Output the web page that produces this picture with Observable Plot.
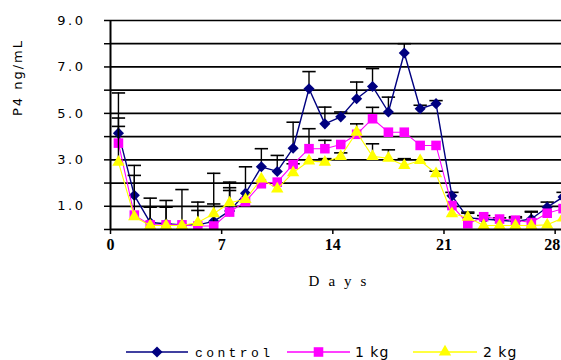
<!DOCTYPE html>
<html><head><meta charset="utf-8">
<script src="https://cdn.jsdelivr.net/npm/d3@7"></script>
<script src="https://cdn.jsdelivr.net/npm/@observablehq/plot@0.6"></script>
<style>
body{margin:0;background:#fff;}
#chart svg, #legend svg{display:block;}
#chart g[aria-label="y-axis tick label"] text{letter-spacing:2.5px;}
.ylab text{letter-spacing:2px;}
.xlab text{letter-spacing:9px;}
</style></head><body><div id="chart"></div><div id="legend"></div>
<script>
const days = [0.5,1.5,2.5,3.5,4.5,5.5,6.5,7.5,8.5,9.5,10.5,11.5,12.5,13.5,14.5,15.5,16.5,17.5,18.5,19.5,20.5,21.5,22.5,23.5,24.5,25.5,26.5,27.5,28.5];
const control = [4.15,1.47,0.3,0.25,0.2,0.2,0.35,0.8,1.56,2.7,2.5,3.5,6.06,4.55,4.85,5.63,6.16,5.06,7.6,5.2,5.42,1.45,0.5,0.45,0.4,0.35,0.45,0.96,1.4];
const kg1 = [3.72,0.62,0.2,0.2,0.2,0.15,0.15,0.75,1.2,1.97,2.04,2.8,3.48,3.48,3.66,4.1,4.77,4.19,4.19,3.62,3.62,1.03,0.25,0.55,0.45,0.4,0.3,0.7,0.9];
const kg2 = [2.9,0.55,0.17,0.17,0.17,0.3,0.68,1.15,1.3,2.18,1.75,2.45,2.95,2.9,3.15,4.19,3.15,3.07,2.76,2.97,2.4,0.68,0.53,0.17,0.17,0.17,0.17,0.2,0.5];
const controlErr = [5.88,2.76,1.35,1.25,1.72,1.18,2.42,2.04,2.7,3.48,3.19,4.62,6.8,5.27,5.06,6.35,6.93,5.7,8.0,5.35,5.55,1.6,0.75,0.6,0.5,0.55,0.75,1.18,1.6];
const kg1Err = [4.44,2.33,0.96,0.96,null,0.82,1.1,1.68,null,null,null,2.83,4.34,3.84,null,4.55,5.26,null,null,null,null,null,0.7,null,null,0.5,0.78,null,null];
const kg2Err = [4.8,null,null,null,null,null,null,1.8,null,null,null,null,null,3.05,3.3,null,3.69,3.43,3.05,null,2.51,null,null,null,null,null,null,null,null];
const seriesNames = ["control","1 kg","2 kg"];
const seriesColors = ["#000080","#ff00ff","#ffff00"];
const seriesSymbols = ["diamond2","square","triangle"];
const seriesRadius = [5,5.4,4.6];
const xTicks = [0,7,14,21,28];
const yTicks = [0,1,2,3,4,5,6,7,8,9];
const yTickLabels = {1:"1.0",3:"3.0",5:"5.0",7:"7.0",9:"9.0"};
const yLabel = "P4 ng/mL";
const xLabel = "Days";

const valueSets = [control, kg1, kg2];
const errSets = [controlErr, kg1Err, kg2Err];
const tables = seriesNames.map((s, k) => days.map((d, i) => ({day: d, series: s, value: valueSets[k][i], err: errSets[k][i]})));

const seriesMarks = tables.flatMap((rows, k) => {
  const errRows = rows.filter(r => r.err != null);
  return [
    Plot.ruleX(errRows, {x: "day", y1: "value", y2: "err", stroke: "#000", strokeWidth: 1.4, clip: true}),
    Plot.link(errRows, {x1: d => d.day - 0.42, x2: d => d.day + 0.42, y1: "err", y2: "err", stroke: "#000", strokeWidth: 1.6, clip: true}),
    Plot.line(rows, {x: "day", y: "value", stroke: seriesColors[k], strokeWidth: k === 0 ? 1.4 : 1.1, clip: true}),
    Plot.dot(rows, {x: "day", y: "value", symbol: () => seriesSymbols[k], fill: seriesColors[k], r: seriesRadius[k], stroke: "none", clip: true})
  ];
});

const chart = Plot.plot({
  width: 561,
  height: 320,
  marginLeft: 110,
  marginRight: 0,
  marginTop: 20,
  marginBottom: 91,
  style: {background: "#fff", color: "#000"},
  x: {domain: [0, 28.4]},
  y: {domain: [0, 9]},
  symbol: {type: "identity"},
  marks: [
    Plot.ruleY(yTicks.filter(t => t > 0), {stroke: "#000", strokeOpacity: 1, strokeWidth: 1.7}),
    Plot.axisY({ticks: yTicks, tickFormat: d => yTickLabels[d] || "", tickSize: 6, tickPadding: 19, fontSize: 13, fontFamily: "DejaVu Sans", stroke: "#000", strokeWidth: 1.5, label: null}),
    Plot.axisX({ticks: xTicks, tickFormat: d => String(d), tickSize: 5, tickPadding: 4, fontSize: 16, fontWeight: "bold", fontFamily: "Liberation Serif", stroke: "#000", strokeWidth: 1.5, label: null}),
    ...seriesMarks,
    Plot.ruleX([0], {stroke: "#000", strokeWidth: 2}),
    Plot.ruleY([0], {stroke: "#000", strokeWidth: 2}),
    Plot.text([yLabel], {frameAnchor: "left", rotate: -90, dx: -93, dy: -9, fontSize: 13, fontFamily: "DejaVu Sans", fill: "#000", className: "ylab"}),
    Plot.text([xLabel], {frameAnchor: "bottom", dy: 56, dx: 6, fontSize: 15, fontFamily: "Liberation Serif", fill: "#000", className: "xlab"})
  ]
});
document.getElementById("chart").appendChild(chart);
// keep the last day label inside the window
const xLabels = chart.querySelectorAll('g[aria-label="x-axis tick label"] text');
if (xLabels.length) xLabels[xLabels.length - 1].setAttribute("dx", "-3");

// Legend below the chart
const legendItems = [
  {name: seriesNames[0], lineX: [126, 188], textX: 195, font: "Liberation Mono", size: 13, spacing: "3.4px"},
  {name: seriesNames[1], lineX: [287, 350], textX: 355, font: "DejaVu Sans", size: 14, spacing: "1px"},
  {name: seriesNames[2], lineX: [413, 477], textX: 483, font: "DejaVu Sans", size: 14, spacing: "1px"}
];
const lsvg = d3.select("#legend").append("svg").attr("width", 561).attr("height", 40);
const symbolTypes = {diamond2: d3.symbolDiamond2, square: d3.symbolSquare, triangle: d3.symbolTriangle};
legendItems.forEach((it, k) => {
  const g = lsvg.append("g").attr("transform", "translate(0,32)");
  g.append("line").attr("x1", it.lineX[0]).attr("x2", it.lineX[1]).attr("y1", 0).attr("y2", 0)
    .attr("stroke", seriesColors[k]).attr("stroke-width", 1.5);
  g.append("path").attr("d", d3.symbol(symbolTypes[seriesSymbols[k]], Math.PI * seriesRadius[k] * seriesRadius[k])())
    .attr("transform", `translate(${(it.lineX[0] + it.lineX[1]) / 2},0)`).attr("fill", seriesColors[k]);
  g.append("text").attr("x", it.textX).attr("y", 0).attr("dy", "0.35em")
    .attr("font-family", it.font).attr("font-size", it.size).style("letter-spacing", it.spacing).text(it.name);
});
</script></body></html>
